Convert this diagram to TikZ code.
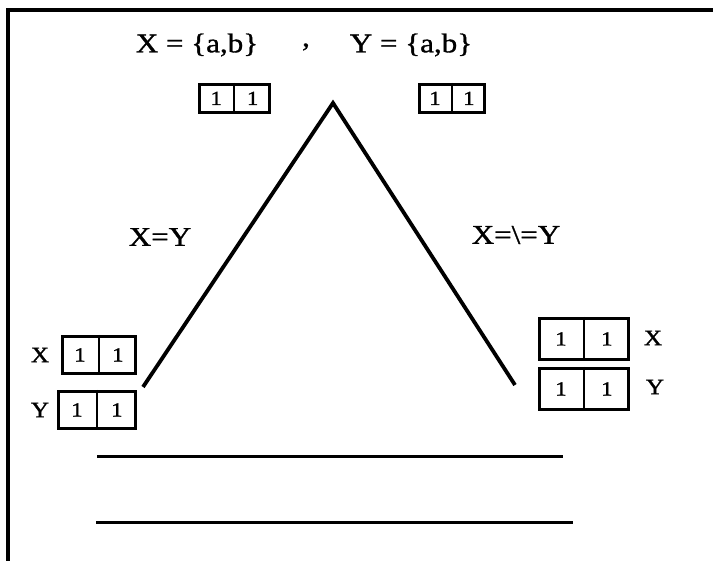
\documentclass[tikz,border=0pt]{standalone}
\usepackage{fontspec}
\setmainfont{Liberation Serif}[FakeStretch=1.15,FakeBold=1.2]
\usetikzlibrary{calc}
\begin{document}
\begin{tikzpicture}[x=1pt,y=-1pt,
  lbl/.style={font=\fontsize{27}{29}\selectfont, inner sep=0pt},
  side/.style={font=\fontsize{22}{24}\selectfont, inner sep=0pt},
  dig/.style={font=\fontsize{20}{21}\selectfont, inner sep=0pt},
  cellbox/.style={draw, line width=2.8pt, inner sep=0pt, anchor=north west},
  thick line/.style={line width=3.8pt},
  rule/.style={line width=3pt}]
\useasboundingbox (0,0) rectangle (713,561);
% frame (left and top edges only)
\draw[line width=3.2pt] (8,561) -- (8,10) -- (713,10);
% top texts
\node[lbl] (xset) at (197,45) {X = \{a,b\}};
\node[lbl] (comma) at (306,47) {,};
\node[lbl] (yset) at (411,45) {Y = \{a,b\}};
% top boxes
\node[cellbox, minimum width=70pt, minimum height=28pt] (tbl) at (198,83) {};
\node[cellbox, minimum width=65pt, minimum height=28pt] (tbr) at (418,83) {};
% left boxes
\node[cellbox, minimum width=73pt, minimum height=37pt] (lbx) at (61,335) {};
\node[cellbox, minimum width=77pt, minimum height=37pt] (lby) at (57,390) {};
% right boxes
\node[cellbox, minimum width=89pt, minimum height=41pt] (rbx) at (538,317) {};
\node[cellbox, minimum width=89pt, minimum height=41pt] (rby) at (538,367) {};
% dividers and digits
\foreach \b in {tbl,tbr,lbx,lby,rbx,rby}{
  \draw[line width=2pt] (\b.north) -- (\b.south);
  \node[dig] at ($(\b.west)!0.5!(\b.center)$) {1};
  \node[dig] at ($(\b.east)!0.5!(\b.center)$) {1};
}
% side labels
\node[side] (lx) at (40,355) {X};
\node[side] (ly) at (40,410) {Y};
\node[side] (rx) at (653,338) {X};
\node[side] (ry) at (655,387) {Y};
% tree
\coordinate (apex) at (333,103);
\coordinate (lend) at (143,387);
\coordinate (rend) at (515,385);
\draw[thick line, line join=miter] (lend) -- (apex) -- (rend);
\node[lbl] (eq) at (160,237) {X=Y};
\node[lbl] (neq) at (516,235) {X=\textbackslash=Y};
% rules
\coordinate (r1a) at (97,457); \coordinate (r1b) at (563,457);
\coordinate (r2a) at (96,523); \coordinate (r2b) at (573,523);
\draw[rule] (r1a) -- (r1b);
\draw[rule] (r2a) -- (r2b);
\end{tikzpicture}
\end{document}
